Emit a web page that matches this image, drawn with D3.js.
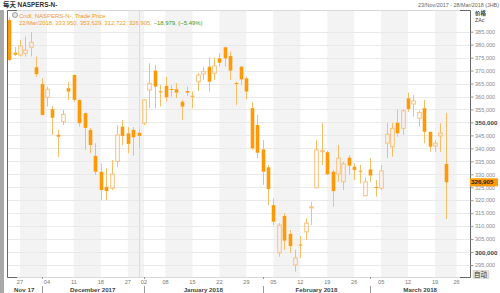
<!DOCTYPE html>
<meta charset="utf-8">
<style>
  body {margin:0; background:#fff;}
  svg text {font-family:"Liberation Sans", Arial, "Noto Sans CJK SC", sans-serif;}
</style>
<svg width="500" height="293"></svg>
<script src="https://cdn.jsdelivr.net/npm/d3@7"></script>
<script>

var dates = ["2017-11-23","2017-11-24","2017-11-27","2017-11-28","2017-11-29","2017-11-30","2017-12-01",
  "2017-12-04","2017-12-05","2017-12-06","2017-12-07","2017-12-08",
  "2017-12-11","2017-12-12","2017-12-13","2017-12-14","2017-12-15",
  "2017-12-18","2017-12-19","2017-12-20","2017-12-21","2017-12-22",
  "2017-12-27","2017-12-28","2017-12-29",
  "2018-01-02","2018-01-03","2018-01-04","2018-01-05",
  "2018-01-08","2018-01-09","2018-01-10","2018-01-11","2018-01-12",
  "2018-01-15","2018-01-16","2018-01-17","2018-01-18","2018-01-19",
  "2018-01-22","2018-01-23","2018-01-24","2018-01-25","2018-01-26",
  "2018-01-29","2018-01-30","2018-01-31","2018-02-01","2018-02-02",
  "2018-02-05","2018-02-06","2018-02-07","2018-02-08","2018-02-09",
  "2018-02-12","2018-02-13","2018-02-14","2018-02-15","2018-02-16",
  "2018-02-19","2018-02-20","2018-02-21","2018-02-22","2018-02-23",
  "2018-02-26","2018-02-27","2018-02-28","2018-03-01","2018-03-02",
  "2018-03-05","2018-03-06","2018-03-07","2018-03-08","2018-03-09",
  "2018-03-12","2018-03-13","2018-03-14","2018-03-15","2018-03-16",
  "2018-03-19","2018-03-20","2018-03-22"];

var opens = [389500,376900,376000,376700,379000,371300,364800,359700,355100,345200,
  350300,363200,368300,358700,353600,347100,337100,331000,325200,324600,
  334900,348400,345800,347100,346000,349700,362500,370000,362000,364100,
  362900,362800,358000,362100,360300,365700,368700,371500,369000,374700,
  379000,375600,365200,371500,367000,355500,349000,339600,332700,318100,
  299700,313900,307000,295000,302900,307800,317200,324800,338900,338500,
  331000,330100,327100,336400,332900,331400,321700,331900,325100,324600,
  342000,340600,349900,347700,359300,357100,351600,355500,346400,340900,
  344800,333950];
var highs = [390500,379100,381800,383100,384800,375400,367000,363800,356300,347100,
  354800,365700,368500,358900,353800,347900,342000,334200,332300,335500,
  349000,350900,348200,348200,347100,359000,372800,372200,364400,367600,
  364400,365200,358700,363800,361900,369000,371500,375100,375100,376700,
  379200,377300,365700,371800,367600,357600,352900,343200,333600,320700,
  311100,314900,308500,300800,306200,313000,319400,343200,349700,339000,
  331700,341300,334900,337400,334200,333600,328700,336200,327800,333600,
  349900,349900,355100,355100,361500,360600,354500,358700,346400,343200,
  349700,353629];
var lows = [373700,375600,375400,375400,375400,367600,352700,356100,345200,336700,
  349000,358700,358000,348400,339400,338100,329700,320100,320100,323900,
  332900,341300,338100,337100,340000,349000,355500,355500,356100,358000,
  359900,359400,350900,360200,355500,362200,366400,361900,366400,371500,
  371500,366400,356700,364400,358900,339400,336200,325900,318100,310400,
  298200,300800,299700,292400,297700,304600,310400,324800,333600,329700,
  317500,327100,323900,329700,327800,326500,321600,327100,321400,323900,
  336200,336800,344500,345200,354100,352200,348400,342000,338700,338700,
  338700,312722];
var closes = [374100,376100,379500,377900,380900,368600,352900,362800,351800,344500,
  353100,361900,358700,349700,347900,341300,331000,323900,323500,330100,
  345200,344800,341700,344300,344800,358700,365100,363800,361800,359700,
  362700,361500,356100,361500,360100,368300,369600,365700,371800,373000,
  374700,370000,365000,366600,361900,340000,338300,331000,324300,311700,
  310400,304400,302300,297700,302700,311100,317400,339400,339100,330000,
  323500,336200,334000,333300,331700,331200,327100,329500,324900,331300,
  345400,347700,345800,354500,355200,358300,353800,346400,340600,342000,
  345884,326905];

// trading days still on the axis after the last candle
var futureDays = ["2018-03-23","2018-03-26","2018-03-27","2018-03-28"];
var monthNames = ["Nov 17","December 2017","January 2018","February 2018","March 2018"];
var yTicks = d3.range(295000, 390000, 5000);
var boldTicks = [300000, 350000];

var svg = d3.select("svg"),
    pLeft = 7, pRight = 470, pTop = 10, pBottom = 277;

var parse = d3.timeParse("%Y-%m-%d");
var days = dates.concat(futureDays);

var x = d3.scaleBand().domain(days).range([6.5, 470.1]).paddingInner(0.33).paddingOuter(0.165);
var cx = function(d) { return x(d) + x.bandwidth() / 2; };
var y = d3.scaleLinear().domain([295000, 385000]).range([265, 31.7]);

// weeks (first trading day of each week)
var weekStarts = [];
days.forEach(function(d, i) {
  var wk = +d3.timeMonday.floor(parse(d));
  if (i == 0 || wk != +d3.timeMonday.floor(parse(days[i-1]))) weekStarts.push(i);
});
var monthStarts = [];
days.forEach(function(d, i) {
  if (i == 0 || parse(d).getMonth() != parse(days[i-1]).getMonth()) monthStarts.push(i);
});

// left strip
svg.append("rect").attr("x", 0).attr("y", 10).attr("width", 4).attr("height", 283).attr("fill", "#a9a9a9");

// week bands
weekStarts.forEach(function(s, k) {
  if (k % 2 == 1) {
    var x0 = cx(days[s]);
    var x1 = k + 1 < weekStarts.length ? cx(days[weekStarts[k+1]]) : pRight;
    svg.append("rect").attr("x", x0).attr("y", pTop + 1).attr("width", x1 - x0)
      .attr("height", pBottom - pTop - 1).attr("fill", "#f3f3f3");
  }
});

// year end marker
var yearEnd = dates.filter(function(d) { return d.slice(5) <= "12-31" && d.slice(0, 4) == "2017"; }).pop();
svg.append("line").attr("x1", Math.round(cx(yearEnd)) + 0.5).attr("x2", Math.round(cx(yearEnd)) + 0.5)
  .attr("y1", pTop + 1).attr("y2", pBottom).attr("stroke", "#dcdcdc");

// gridlines
svg.append("g").selectAll("line").data(yTicks).enter().append("line")
  .attr("x1", pLeft).attr("x2", pRight)
  .attr("y1", function(d) { return Math.round(y(d)) + 0.5; })
  .attr("y2", function(d) { return Math.round(y(d)) + 0.5; })
  .attr("stroke", "#e9e9e9").attr("stroke-width", 1);

// frame
svg.append("line").attr("x1", pLeft).attr("x2", pRight).attr("y1", pTop + 0.5).attr("y2", pTop + 0.5).attr("stroke", "#d8d8d8");
svg.append("line").attr("x1", pLeft).attr("x2", pRight).attr("y1", pBottom + 0.5).attr("y2", pBottom + 0.5).attr("stroke", "#d8d8d8");
svg.append("path").attr("d", "M17," + (pTop + 0.5) + "H7.5V" + (pBottom + 0.5) + "H17").attr("fill", "none").attr("stroke", "#666");
svg.append("path").attr("d", "M460," + (pTop + 0.5) + "H470.5V" + (pBottom + 0.5) + "H460").attr("fill", "none").attr("stroke", "#666");

svg.append("clipPath").attr("id", "plot").append("rect")
  .attr("x", pLeft + 1).attr("y", pTop + 1).attr("width", pRight - pLeft - 1).attr("height", pBottom - pTop - 1);

var candles = dates.map(function(d, i) {
  return {date: d, o: opens[i], h: highs[i], l: lows[i], c: closes[i]};
});

var bw = x.bandwidth();
var g = svg.append("g").attr("clip-path", "url(#plot)");
var c = g.selectAll("g").data(candles).enter().append("g");

c.append("line")
  .attr("x1", function(d) { return Math.round(cx(d.date)) + 0.5; })
  .attr("x2", function(d) { return Math.round(cx(d.date)) + 0.5; })
  .attr("y1", function(d) { return y(d.h); })
  .attr("y2", function(d) { return y(Math.max(d.o, d.c)); })
  .attr("stroke", "#fbbd66");
c.append("line")
  .attr("x1", function(d) { return Math.round(cx(d.date)) + 0.5; })
  .attr("x2", function(d) { return Math.round(cx(d.date)) + 0.5; })
  .attr("y1", function(d) { return y(Math.min(d.o, d.c)); })
  .attr("y2", function(d) { return y(d.l); })
  .attr("stroke", "#fbbd66");

c.append("rect")
  .attr("x", function(d) { return Math.round(cx(d.date)) + 0.5 - bw / 2; })
  .attr("width", bw)
  .attr("y", function(d) { return y(Math.max(d.o, d.c)); })
  .attr("height", function(d) { return Math.max(1, y(Math.min(d.o, d.c)) - y(Math.max(d.o, d.c))); })
  .attr("fill", function(d) { return d.c < d.o ? "#ff9a06" : "none"; })
  .attr("stroke", function(d) { return d.c < d.o ? "none" : "#f9c27c"; })
  .attr("stroke-width", 1);

// y axis
var yAxis = svg.append("g").attr("transform", "translate(470.5,0)")
  .call(d3.axisRight(y).tickValues(yTicks).tickFormat(d3.format(",")).tickSize(3).tickPadding(1.5));
yAxis.select(".domain").remove();
yAxis.selectAll("line").attr("stroke", "#999");
yAxis.selectAll("text")
  .style("font-size", function(d) { return boldTicks.indexOf(d) >= 0 ? "6.2px" : "5.6px"; })
  .style("font-weight", function(d) { return boldTicks.indexOf(d) >= 0 ? "bold" : "normal"; })
  .attr("fill", function(d) { return boldTicks.indexOf(d) >= 0 ? "#3c4250" : "#8a8a8a"; });

svg.append("text").attr("x", 475).attr("y", 15).text("价格")
  .style("font-size", "5.5px").style("font-weight", "bold").attr("fill", "#333");
svg.append("text").attr("x", 475).attr("y", 22).text("ZAc")
  .style("font-size", "5.2px").attr("fill", "#444");

// last price tag
var last = candles[candles.length - 1];
svg.append("rect").attr("x", 470).attr("y", y(last.c) - 4).attr("width", 28).attr("height", 8).attr("fill", "#ff9a06");
svg.append("text").attr("x", 471).attr("y", y(last.c) + 2.2).text(d3.format(",")(last.c))
  .style("font-size", "6.2px").style("font-weight", "bold").attr("fill", "#222");

// auto button
svg.append("rect").attr("x", 473).attr("y", 270.5).attr("width", 16).attr("height", 8).attr("fill", "#e2e2e2").attr("stroke", "#c8c8c8").attr("stroke-width", 0.5);
svg.append("text").attr("x", 474).attr("y", 277).text("自动").style("font-size", "6.5px").attr("fill", "#333");

// x labels: week starts (skip partial first week)
var fmtDay = d3.timeFormat("%d");
svg.append("g").selectAll("text").data(weekStarts.slice(1)).enter().append("text")
  .attr("x", function(i) { return cx(days[i]); })
  .attr("y", 284)
  .attr("text-anchor", "middle")
  .style("font-size", "5.6px").attr("fill", "#777")
  .text(function(i) { return fmtDay(parse(days[i])); });

// month labels and separators
monthStarts.forEach(function(s, m) {
  var x0 = m == 0 ? pLeft : cx(days[s]);
  var x1 = m + 1 < monthStarts.length ? cx(days[monthStarts[m+1]]) : pRight;
  if (m > 0) {
    svg.append("line").attr("x1", Math.round(x0) + 0.5).attr("x2", Math.round(x0) + 0.5)
      .attr("y1", 286).attr("y2", 293).attr("stroke", "#999");
    svg.append("line").attr("x1", Math.round(x0) + 0.5).attr("x2", Math.round(x0) + 0.5)
      .attr("y1", 277).attr("y2", 279).attr("stroke", "#999");
  }
  svg.append("text").attr("x", (x0 + x1) / 2).attr("y", 292)
    .attr("text-anchor", "middle")
    .style("font-size", "6.2px").style("font-weight", "bold").attr("fill", "#444")
    .text(monthNames[m]);
});

// titles and legend
svg.append("text").attr("x", 3).attr("y", 7).text("每天 NASPERS-N-")
  .style("font-size", "6.4px").style("font-weight", "bold").attr("fill", "#333");
svg.append("text").attr("x", 499).attr("y", 7).attr("text-anchor", "end")
  .text("23/Nov/2017 - 28/Mar/2018 (JHB)").style("font-size", "5.4px").attr("fill", "#666");

svg.append("circle").attr("cx", 15).attr("cy", 15).attr("r", 2.5).attr("fill", "#e8e8e8").attr("stroke", "#888").attr("stroke-width", 0.8);
svg.append("text").attr("x", 19).attr("y", 17.5).text("Cndl, NASPERS-N-, Trade Price")
  .style("font-size", "6px").attr("fill", "#f09a1e");
var prev = closes[closes.length - 2];
var chg = last.c - prev;
var t2 = svg.append("text").attr("x", 19).attr("y", 25.3).style("font-size", "5.9px");
t2.append("tspan").attr("fill", "#f09a1e")
  .text("22/Mar/2018, " + [last.o, last.h, last.l, last.c].map(d3.format(",")).join(", ") + ", ");
t2.append("tspan").attr("fill", "#3a9a2a")
  .text(d3.format(",")(chg) + ", (" + d3.format(".2f")(chg / prev * 100) + "%)");

</script>
